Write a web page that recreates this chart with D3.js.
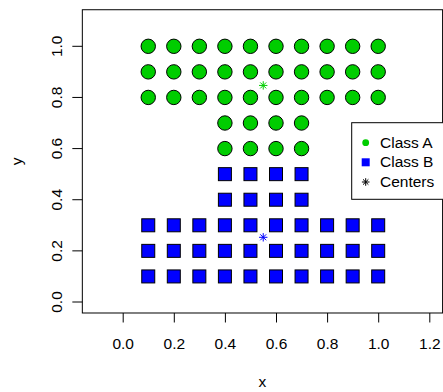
<!DOCTYPE html>
<html><head><meta charset="utf-8">
<script src="https://cdn.jsdelivr.net/npm/d3@7"></script>
<style>body{margin:0;background:#fff}svg{display:block}text{font-family:"Liberation Sans",Arial,sans-serif}</style>
</head><body>
<script>
// Data
const classAX = [0.1,0.2,0.3,0.4,0.5,0.6,0.7,0.8,0.9,1.0];
const classAYWide = [1.0,0.9,0.8];
const classAXNarrow = [0.4,0.5,0.6,0.7];
const classAYNarrow = [0.7,0.6];
const classBXNarrow = [0.4,0.5,0.6,0.7];
const classBYNarrow = [0.5,0.4];
const classBX = [0.1,0.2,0.3,0.4,0.5,0.6,0.7,0.8,0.9,1.0];
const classBYWide = [0.3,0.2,0.1];
const centerX = [0.55,0.55];
const centerY = [0.847,0.253];
const xTicks = [0.0,0.2,0.4,0.6,0.8,1.0,1.2];
const yTicks = [0.0,0.2,0.4,0.6,0.8,1.0];
const legendLabels = ["Class A","Class B","Centers"];

(function(){
const W=443,H=392, FS=15.5;
const svg=d3.select("body").append("svg").attr("width",W).attr("height",H);
const x=d3.scaleLinear().domain([0,1]).range([122.7,378.2]);
const y=d3.scaleLinear().domain([0,1]).range([302,46.3]);
const pL=x(-0.158), pR=x(1.252), pT=y(1.143), pB=y(-0.043);

const green="#00CD00", blue="#0000FF";

function grid(xs,ys){const out=[];ys.forEach(yy=>xs.forEach(xx=>out.push([xx,yy])));return out;}
const ptsA=grid(classAX,classAYWide).concat(grid(classAXNarrow,classAYNarrow));
const ptsB=grid(classBXNarrow,classBYNarrow).concat(grid(classBX,classBYWide));

svg.append("g").selectAll("circle").data(ptsA).join("circle")
  .attr("cx",d=>x(d[0])).attr("cy",d=>y(d[1])).attr("r",7.2)
  .attr("fill",green).attr("stroke","#000").attr("stroke-width",1);
const s=13;
svg.append("g").selectAll("rect").data(ptsB).join("rect")
  .attr("x",d=>x(d[0])-s/2).attr("y",d=>y(d[1])-s/2).attr("width",s).attr("height",s)
  .attr("fill",blue).attr("stroke","#000").attr("stroke-width",1);

function star(g,cx,cy,col,r){
  const d=r*0.7071;
  g.append("path").attr("d",`M${cx-r},${cy}H${cx+r}M${cx},${cy-r}V${cy+r}M${cx-d},${cy-d}L${cx+d},${cy+d}M${cx-d},${cy+d}L${cx+d},${cy-d}`)
   .attr("stroke",col).attr("stroke-width",1).attr("fill","none");
}
const cg=svg.append("g");
centerX.forEach((cx,i)=>star(cg,x(cx),y(centerY[i]),i===0?green:blue,4.2));

// frame
svg.append("rect").attr("x",pL).attr("y",pT).attr("width",pR-pL).attr("height",pB-pT)
  .attr("fill","none").attr("stroke","#000").attr("stroke-width",1);

// axes
const xa=svg.append("g").attr("transform",`translate(0,${pB})`)
  .call(d3.axisBottom(x).tickValues(xTicks).tickFormat(d3.format(".1f")).tickSize(9.5));
xa.select(".domain").remove();
xa.selectAll("text").attr("font-size",FS).attr("fill","#000").style("font-family","Liberation Sans, Arial, sans-serif")
  .attr("y",349-pB).attr("dy",null);
const ya=svg.append("g").attr("transform",`translate(${pL},0)`)
  .call(d3.axisLeft(y).tickValues(yTicks).tickFormat(d3.format(".1f")).tickSize(10));
ya.select(".domain").remove();
ya.selectAll(".tick").attr("transform",null);
ya.selectAll(".tick line").attr("y1",d=>y(d)).attr("y2",d=>y(d));
ya.selectAll("text").attr("font-size",FS).attr("fill","#000").style("font-family","Liberation Sans, Arial, sans-serif")
  .attr("text-anchor","middle").attr("x",0).attr("y",0).attr("dy",null)
  .attr("transform",d=>`translate(${61.7-pL},${y(d)}) rotate(-90)`);

svg.append("text").attr("x",(pL+pR)/2).attr("y",386.7).attr("text-anchor","middle").attr("font-size",FS).text("x");
svg.append("text").attr("transform",`translate(21.7,${(pT+pB)/2}) rotate(-90)`).attr("text-anchor","middle").attr("font-size",FS).text("y");

// legend
const lg=svg.append("g");
lg.append("rect").attr("x",351.7).attr("y",122.7).attr("width",120).attr("height",76.6)
  .attr("fill","#fff").attr("stroke","#000").attr("stroke-width",1);
const rowY=[142.7,162.3,182];
lg.append("circle").attr("cx",365.7).attr("cy",rowY[0]).attr("r",3.4).attr("fill",green);
lg.append("rect").attr("x",365.7-4).attr("y",rowY[1]-4).attr("width",8).attr("height",8).attr("fill",blue);
star(lg,365.7,rowY[2],"#000",3.8);
lg.selectAll("text.lab").data(legendLabels).join("text").attr("class","lab")
  .attr("x",380).attr("y",(d,i)=>rowY[i]+4.9).attr("font-size",FS).text(d=>d);
})();
</script>
</body></html>
